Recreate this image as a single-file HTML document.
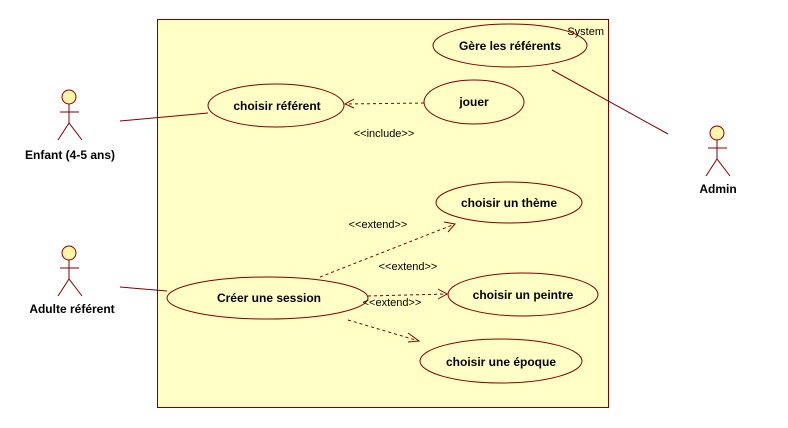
<!DOCTYPE html>
<html><head><meta charset="utf-8"><style>
html,body{margin:0;padding:0;background:#fff;}
svg{display:block}
text{font-family:"Liberation Sans","DejaVu Sans",sans-serif;}
.b{font-weight:bold;font-size:12px;fill:#000;}
.s{font-size:11px;fill:#000;}
</style></head><body>
<svg width="788" height="428" viewBox="0 0 788 428" xmlns="http://www.w3.org/2000/svg">
<rect x="157.5" y="19.5" width="451" height="388" fill="#ffffc6" stroke="#800000" stroke-width="1"/>
<text x="604" y="35" class="s" text-anchor="end" font-size="10">System</text>
<g fill="none" stroke="#800000" stroke-width="1">
<ellipse cx="510" cy="45.5" rx="77" ry="21.5"/>
<ellipse cx="276" cy="105.5" rx="68" ry="21.5"/>
<ellipse cx="474" cy="102" rx="50" ry="22"/>
<ellipse cx="509" cy="202.5" rx="73" ry="20.5"/>
<ellipse cx="267.5" cy="298" rx="100.5" ry="21"/>
<ellipse cx="523" cy="294.5" rx="75" ry="21.5"/>
<ellipse cx="501" cy="361" rx="81" ry="22"/>
<line x1="120" y1="121" x2="208" y2="113"/>
<line x1="120" y1="287" x2="167" y2="291"/>
<line x1="552" y1="70" x2="668" y2="134"/>
<g stroke-dasharray="3,3">
<line x1="424" y1="103" x2="346" y2="104"/>
<line x1="320" y1="277" x2="455" y2="224"/>
<line x1="368" y1="296" x2="447" y2="294"/>
<line x1="348" y1="320" x2="419" y2="341"/>
</g>
<polyline points="354,99 345,104 354,108"/>
<polyline points="444,222 455,224 448,232"/>
<polyline points="438,289 447,294 438,299"/>
<polyline points="408,333 419,341 408,342"/>
</g>
<text x="510" y="50" class="b" text-anchor="middle">Gère les référents</text>
<text x="277" y="110" class="b" text-anchor="middle">choisir référent</text>
<text x="474" y="106" class="b" text-anchor="middle">jouer</text>
<text x="509" y="207" class="b" text-anchor="middle">choisir un thème</text>
<text x="269" y="302" class="b" text-anchor="middle">Créer une session</text>
<text x="523" y="299" class="b" text-anchor="middle">choisir un peintre</text>
<text x="501" y="366" class="b" text-anchor="middle">choisir une époque</text>
<text x="384" y="137" class="s" text-anchor="middle">&lt;&lt;include&gt;&gt;</text>
<text x="378" y="228" class="s" text-anchor="middle">&lt;&lt;extend&gt;&gt;</text>
<text x="408" y="270" class="s" text-anchor="middle">&lt;&lt;extend&gt;&gt;</text>
<text x="392" y="306" class="s" text-anchor="middle">&lt;&lt;extend&gt;&gt;</text>
<g stroke="#800000" stroke-width="1" fill="#fff5a8">
<circle cx="69" cy="97" r="7"/>
<circle cx="69" cy="253" r="7"/>
<circle cx="717" cy="133" r="7"/>
</g>
<g stroke="#800000" stroke-width="1" fill="none">
<path d="M69 104V123M60 112H79M58 140L69 123L82 140"/>
<path d="M69 260V279M60 268H79M58 296L69 279L82 296"/>
<path d="M717 140V159M708 148H727M706 176L717 159L730 176"/>
</g>
<text x="70" y="159" class="b" text-anchor="middle">Enfant (4-5 ans)</text>
<text x="72" y="313" class="b" text-anchor="middle">Adulte référent</text>
<text x="718" y="193" class="b" text-anchor="middle">Admin</text>
</svg>
</body></html>
